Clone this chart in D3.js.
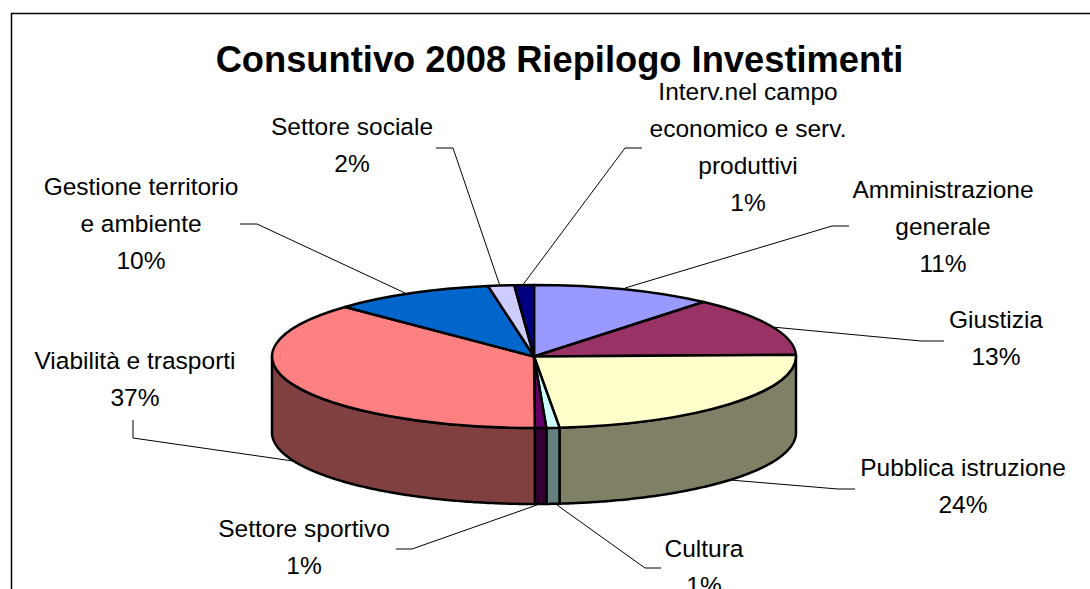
<!DOCTYPE html>
<html><head><meta charset="utf-8">
<script src="https://cdn.jsdelivr.net/npm/d3@7/dist/d3.min.js"></script>
<style>html,body{margin:0;padding:0;background:#fff}svg{display:block}text{font-family:"Liberation Sans",Arial,sans-serif;fill:#000}</style>
</head><body><svg id="c" width="1090" height="589"></svg>
<script>
const title = "Consuntivo 2008 Riepilogo Investimenti";
const categories = [["Amministrazione","generale"],["Giustizia"],["Pubblica istruzione"],["Cultura"],["Settore sportivo"],["Viabilità e trasporti"],["Gestione territorio","e ambiente"],["Settore sociale"],["Interv.nel campo","economico e serv.","produttivi"]];
const values = [11.2,13.4,23.8,0.8,0.7,37.2,10.0,1.6,1.2];
const topColors = ["#9999FF","#993366","#FFFFCC","#CCFFFF","#660066","#FF8080","#0066CC","#CCCCFF","#000080"];
const sideColors = ["#4D4D80","#4D1A33","#808066","#668080","#330033","#804040","#003366","#666680","#000040"];

// layout of annotations: label centre x, first baseline y, leader polyline
const layout = [
 {x:943,y:198,lead:[[849,226],[832,226],[625,288]]},
 {x:996,y:328,lead:[[944,341],[921,341],[772,327]]},
 {x:963,y:476,lead:[[855,489],[838,489],[730,480]]},
 {x:704,y:557,lead:[[661,568],[645,568],[557,505]]},
 {x:304,y:537,lead:[[396,549],[412,549],[537,505]]},
 {x:135,y:369,lead:[[133,420],[133,438],[293,461]]},
 {x:141,y:195,lead:[[240,224],[257,224],[405,293]]},
 {x:352,y:135,lead:[[436,148],[453,148],[500,286]]},
 {x:748,y:100,lead:[[642,148],[625,148],[522,286]]}
];
const LINE=37, cx=534, cy=356.5, rx=262, ry=71.5, depth=76;

const svg=d3.select("#c");
svg.append("path").attr("d",d3.line()([[11.5,600],[11.5,13.5],[1090,13.5]])).attr("fill","none").attr("stroke","#000").attr("stroke-width",1.5);
svg.append("text").attr("x",559.5).attr("y",72).attr("text-anchor","middle").attr("font-size",36.3).attr("font-weight","bold").text(title);

const pie=d3.pie().value(d=>d).sort(null);
const arcs=pie(values);
const px=a=>cx+rx*Math.sin(a), py=a=>cy-ry*Math.cos(a);

const HALF=Math.PI/2, THREE=3*Math.PI/2;
const sides=svg.append("g");
arcs.forEach((d,i)=>{
  const a0=Math.max(d.startAngle,HALF), a1=Math.min(d.endAngle,THREE);
  if(a1<=a0) return;
  const p=d3.path();
  const pts=d3.range(a0,a1,0.01).concat([a1]);
  pts.forEach((a,k)=>k?p.lineTo(px(a),py(a)):p.moveTo(px(a),py(a)));
  pts.slice().reverse().forEach(a=>p.lineTo(px(a),py(a)+depth));
  p.closePath();
  sides.append("path").attr("d",p.toString()).attr("fill",sideColors[i]).attr("stroke","#000").attr("stroke-width",2.5).attr("stroke-linejoin","round");
});
const arc=d3.arc().innerRadius(0).outerRadius(rx);
const faces=svg.append("g").attr("transform",`translate(${cx},${cy}) scale(1,${ry/rx})`);
faces.selectAll("path").data(arcs).join("path").attr("d",arc)
  .attr("fill",(d,i)=>topColors[i]).attr("stroke","#000").attr("stroke-width",2.5)
  .attr("vector-effect","non-scaling-stroke").attr("stroke-linejoin","round");

const line=d3.line();
svg.append("g").selectAll("path").data(layout).join("path").attr("d",d=>line(d.lead))
  .attr("fill","none").attr("stroke","#000").attr("stroke-width",1);

const fmt=d3.format(".0f");
categories.forEach((lines,i)=>{
  const t=svg.append("text").attr("text-anchor","middle").attr("font-size",24.5);
  lines.concat([fmt(values[i])+"%"]).forEach((s,k)=>{
    t.append("tspan").attr("x",layout[i].x).attr("y",layout[i].y+k*LINE).text(s);
  });
});
</script></body></html>
